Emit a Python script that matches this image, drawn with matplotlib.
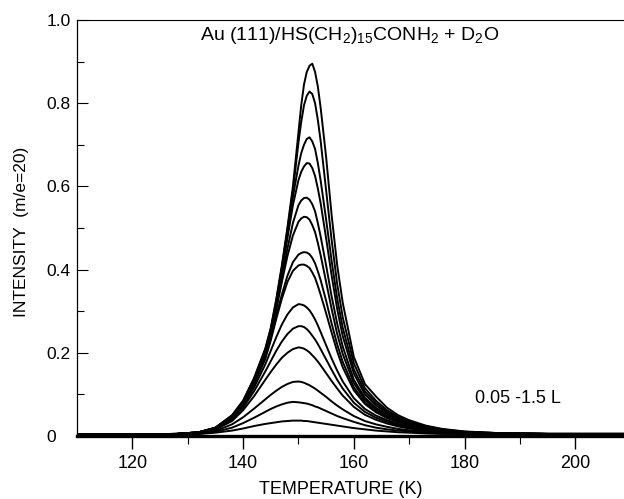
import matplotlib.pyplot as plt
import numpy as np

plt.rcParams['font.family'] = ['Liberation Sans', 'DejaVu Sans']
plt.rcParams['mathtext.fontset'] = 'custom'
plt.rcParams['mathtext.rm'] = 'Liberation Sans'

# temperature grid (K) the traces were read at
temps = [110, 128, 132, 135, 138, 140, 142, 144, 145, 146, 147, 148, 149, 150, 150.5, 151, 151.5, 152, 152.5,
         153, 153.5, 154, 155, 156, 157, 158, 160, 162, 164, 166, 168, 170, 173, 176, 180, 186, 195, 209]

# m/e=20 intensity for each D2O exposure (0.05 - 1.5 L), largest first
trace_01 = [0.003, 0.005, 0.009, 0.020, 0.050, 0.085, 0.140, 0.210, 0.260, 0.330, 0.410, 0.500, 0.600, 0.730, 0.795, 0.845, 0.875, 0.890, 0.895,
            0.875, 0.840, 0.790, 0.670, 0.530, 0.410, 0.320, 0.190, 0.125, 0.095, 0.068, 0.050, 0.038, 0.025, 0.017, 0.011, 0.007, 0.005, 0.005]
trace_02 = [0.003, 0.005, 0.009, 0.020, 0.049, 0.084, 0.138, 0.207, 0.257, 0.325, 0.405, 0.495, 0.590, 0.705, 0.755, 0.795, 0.818, 0.828, 0.822,
            0.800, 0.760, 0.710, 0.590, 0.470, 0.365, 0.285, 0.175, 0.115, 0.085, 0.062, 0.046, 0.035, 0.023, 0.016, 0.010, 0.007, 0.005, 0.005]
trace_03 = [0.003, 0.005, 0.009, 0.020, 0.048, 0.083, 0.136, 0.204, 0.253, 0.320, 0.400, 0.485, 0.575, 0.650, 0.680, 0.700, 0.714, 0.718, 0.708,
            0.690, 0.656, 0.615, 0.520, 0.420, 0.330, 0.260, 0.160, 0.107, 0.079, 0.058, 0.043, 0.033, 0.022, 0.015, 0.010, 0.007, 0.005, 0.005]
trace_04 = [0.003, 0.005, 0.009, 0.019, 0.047, 0.082, 0.134, 0.200, 0.250, 0.315, 0.395, 0.475, 0.555, 0.615, 0.635, 0.648, 0.656, 0.655, 0.644,
            0.625, 0.595, 0.560, 0.475, 0.385, 0.305, 0.240, 0.150, 0.100, 0.074, 0.055, 0.041, 0.031, 0.021, 0.014, 0.009, 0.006, 0.005, 0.005]
trace_05 = [0.003, 0.005, 0.009, 0.019, 0.046, 0.080, 0.131, 0.196, 0.245, 0.310, 0.380, 0.450, 0.512, 0.555, 0.566, 0.572, 0.573, 0.568, 0.557,
            0.540, 0.512, 0.480, 0.410, 0.335, 0.270, 0.215, 0.135, 0.092, 0.068, 0.051, 0.038, 0.029, 0.020, 0.014, 0.009, 0.006, 0.005, 0.005]
trace_06 = [0.003, 0.005, 0.009, 0.019, 0.045, 0.079, 0.129, 0.193, 0.242, 0.305, 0.370, 0.432, 0.482, 0.515, 0.523, 0.527, 0.526, 0.520, 0.507,
            0.490, 0.464, 0.435, 0.370, 0.305, 0.245, 0.197, 0.127, 0.087, 0.064, 0.048, 0.036, 0.028, 0.019, 0.013, 0.009, 0.006, 0.005, 0.005]
trace_07 = [0.003, 0.005, 0.008, 0.018, 0.044, 0.077, 0.126, 0.188, 0.235, 0.290, 0.340, 0.385, 0.418, 0.436, 0.440, 0.442, 0.441, 0.437, 0.428,
            0.415, 0.396, 0.375, 0.325, 0.270, 0.220, 0.178, 0.117, 0.081, 0.060, 0.045, 0.034, 0.026, 0.018, 0.013, 0.009, 0.006, 0.005, 0.005]
trace_08 = [0.003, 0.005, 0.008, 0.018, 0.043, 0.076, 0.124, 0.185, 0.230, 0.282, 0.330, 0.370, 0.397, 0.410, 0.412, 0.412, 0.409, 0.404, 0.393,
            0.380, 0.361, 0.340, 0.295, 0.248, 0.203, 0.165, 0.110, 0.077, 0.057, 0.043, 0.033, 0.025, 0.017, 0.012, 0.008, 0.006, 0.005, 0.005]
trace_09 = [0.003, 0.005, 0.008, 0.017, 0.041, 0.072, 0.117, 0.172, 0.205, 0.238, 0.268, 0.292, 0.309, 0.317, 0.316, 0.314, 0.309, 0.302, 0.292,
            0.280, 0.266, 0.250, 0.218, 0.186, 0.157, 0.131, 0.091, 0.065, 0.049, 0.038, 0.029, 0.022, 0.016, 0.011, 0.008, 0.006, 0.005, 0.005]
trace_10 = [0.003, 0.005, 0.008, 0.016, 0.039, 0.068, 0.108, 0.155, 0.180, 0.205, 0.227, 0.245, 0.258, 0.264, 0.264, 0.262, 0.257, 0.250, 0.241,
            0.232, 0.221, 0.209, 0.184, 0.159, 0.135, 0.114, 0.080, 0.058, 0.044, 0.034, 0.026, 0.020, 0.014, 0.010, 0.007, 0.005, 0.005, 0.005]
trace_11 = [0.003, 0.005, 0.007, 0.015, 0.036, 0.062, 0.096, 0.135, 0.154, 0.172, 0.188, 0.200, 0.209, 0.213, 0.212, 0.210, 0.206, 0.201, 0.194,
            0.187, 0.179, 0.170, 0.151, 0.132, 0.114, 0.097, 0.070, 0.051, 0.039, 0.030, 0.023, 0.018, 0.013, 0.009, 0.007, 0.005, 0.005, 0.005]
trace_12 = [0.003, 0.004, 0.006, 0.012, 0.028, 0.045, 0.066, 0.088, 0.099, 0.109, 0.118, 0.125, 0.130, 0.131, 0.130, 0.128, 0.125, 0.122, 0.118,
            0.114, 0.109, 0.104, 0.094, 0.083, 0.073, 0.064, 0.048, 0.036, 0.028, 0.022, 0.017, 0.014, 0.010, 0.008, 0.006, 0.005, 0.004, 0.004]
trace_13 = [0.003, 0.004, 0.005, 0.010, 0.020, 0.031, 0.044, 0.058, 0.065, 0.071, 0.076, 0.080, 0.082, 0.081, 0.080, 0.079, 0.078, 0.076, 0.074,
            0.071, 0.069, 0.066, 0.060, 0.054, 0.048, 0.043, 0.034, 0.026, 0.020, 0.016, 0.013, 0.011, 0.008, 0.006, 0.005, 0.004, 0.004, 0.004]
trace_14 = [0.003, 0.004, 0.005, 0.008, 0.013, 0.018, 0.024, 0.029, 0.031, 0.033, 0.035, 0.036, 0.037, 0.037, 0.037, 0.036, 0.036, 0.035, 0.034,
            0.033, 0.032, 0.031, 0.029, 0.027, 0.025, 0.023, 0.019, 0.016, 0.013, 0.011, 0.009, 0.008, 0.006, 0.005, 0.005, 0.004, 0.004, 0.004]

traces = [trace_01, trace_02, trace_03, trace_04, trace_05, trace_06, trace_07,
          trace_08, trace_09, trace_10, trace_11, trace_12, trace_13, trace_14]

fig = plt.figure(figsize=(6.24, 4.99), dpi=100)
ax = fig.add_axes([77/624, 1 - 436/499, 1 - 77/624, (436 - 20)/499])

for tr in traces:
    ax.plot(temps, tr, color='black', lw=1.4, solid_joinstyle='round', solid_capstyle='round')

ax.set_xlim(110, 208.8)
ax.set_ylim(0, 1.0)

ax.spines['right'].set_visible(False)
ax.spines['bottom'].set_linewidth(2.4)
ax.spines['left'].set_linewidth(0.9)
ax.spines['top'].set_linewidth(0.8)

ax.set_xticks([120, 140, 160, 180, 200])
ax.set_xticks([130, 150, 170, 190], minor=True)
ax.set_yticks([0, 0.2, 0.4, 0.6, 0.8, 1.0])
ax.set_yticklabels(['0', '0.2', '0.4', '0.6', '0.8', '1.0'])
ax.set_yticks([0.1, 0.3, 0.5, 0.7, 0.9], minor=True)

ax.tick_params(axis='x', which='major', direction='out', length=9, width=1, labelsize=13, pad=5)
ax.tick_params(axis='x', which='minor', direction='out', length=6, width=0.8)
ax.tick_params(axis='y', which='major', direction='in', length=8, width=0.8, labelsize=12.5, pad=22)
ax.tick_params(axis='y', which='minor', direction='in', length=5, width=0.8)
for lab in ax.get_yticklabels():
    lab.set_horizontalalignment('left')

ax.text(132.2, 0.963, r'Au (111)/HS(CH$_2$)$_{15}$CONH$_2$ + D$_2$O', fontsize=14,
        ha='left', va='center')
ax.text(189.7, 0.089, '0.05 -1.5 L', fontsize=13, ha='center', va='center')

fig.text(341/624, 1 - 490/499, 'TEMPERATURE (K)', fontsize=13, ha='center', va='center')
fig.text(22/624, 1 - 232/499, 'INTENSITY  (m/e=20)', fontsize=12.5, ha='center', va='center',
         rotation=90)

fig.savefig('out.png', dpi=100)
